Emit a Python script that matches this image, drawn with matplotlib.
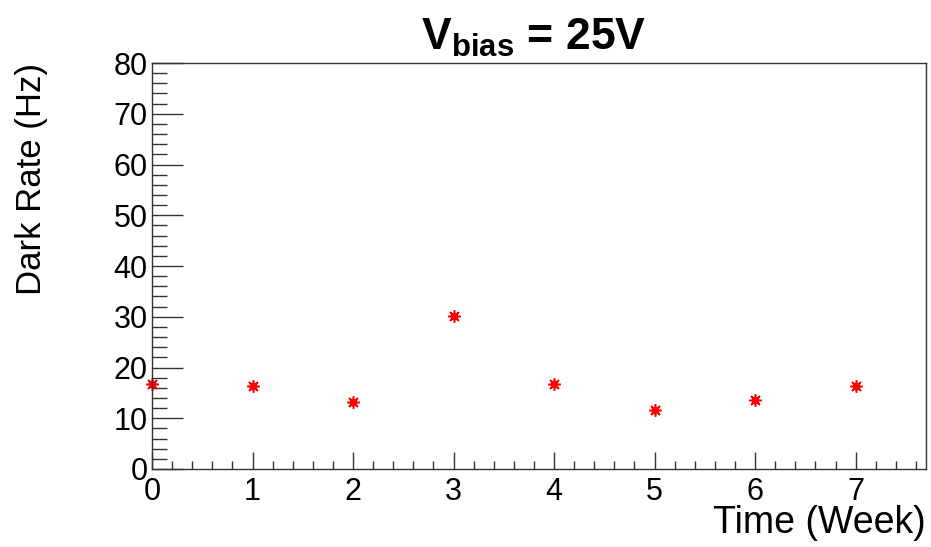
import matplotlib
matplotlib.use('Agg')
import matplotlib.pyplot as plt
from matplotlib.ticker import MultipleLocator

weeks = [0, 1, 2, 3, 4, 5, 6, 7]
dark_rate = [16.7, 16.4, 13.2, 30.1, 16.7, 11.6, 13.6, 16.4]

plt.rcParams['font.family'] = ['Liberation Sans', 'DejaVu Sans']
plt.rcParams['mathtext.fontset'] = 'custom'
plt.rcParams['mathtext.rm'] = 'Liberation Sans'
plt.rcParams['mathtext.bf'] = 'Liberation Sans:bold'

fig = plt.figure(figsize=(9.31, 5.47), dpi=100)
ax = fig.add_axes([0.1633, 0.1426, 0.9946 - 0.1633, 0.8848 - 0.1426])

ax.plot(weeks, dark_rate, linestyle='none', marker=(8, 2, 0), markersize=9,
        markeredgewidth=1.1, color='red', clip_on=False)
ax.plot(weeks, dark_rate, linestyle='none', marker='s', markersize=4,
        color='red', clip_on=False)

ax.set_xlim(0, 7.7)
ax.set_ylim(0, 80)

ax.xaxis.set_major_locator(MultipleLocator(1))
ax.xaxis.set_minor_locator(MultipleLocator(0.2))
ax.yaxis.set_major_locator(MultipleLocator(10))
ax.yaxis.set_minor_locator(MultipleLocator(2))

ax.tick_params(axis='both', which='both', direction='in', top=False, right=False,
               labelsize=22, width=1, color='#333333')
ax.tick_params(axis='y', which='major', length=22, pad=3)
ax.tick_params(axis='y', which='minor', length=11)
ax.tick_params(axis='x', which='major', length=12, pad=6)
ax.tick_params(axis='x', which='minor', length=6)

for s in ax.spines.values():
    s.set_linewidth(1)
    s.set_color('#333333')

fig.text(0.573, 0.9086, r'$\mathbf{V_{bias}}$ = 25V', ha='center', va='baseline',
         fontsize=32, fontweight='bold')
fig.text(32 / 931, 0.8848, 'Dark Rate (Hz)', rotation=90, ha='center', va='top',
         fontsize=25)
fig.text(0.994, 0.0256, 'Time (Week)', ha='right', va='baseline', fontsize=27)

fig.savefig('out.png', dpi=100)
